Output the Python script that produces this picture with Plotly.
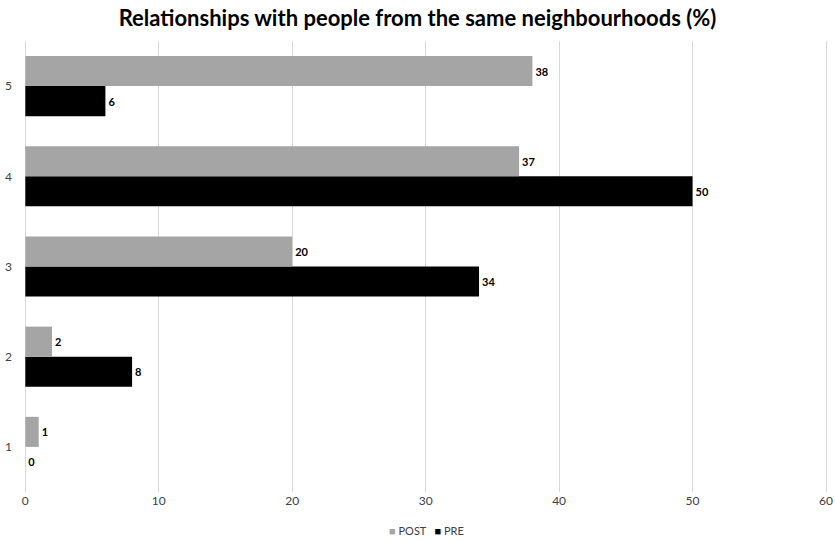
import plotly.graph_objects as go

categories = ["1", "2", "3", "4", "5"]
post_values = [1, 2, 20, 37, 38]
pre_values = [0, 8, 34, 50, 6]
x_ticks = [0, 10, 20, 30, 40, 50, 60]
series_names = ["POST", "PRE"]
series_colors = ["#a5a5a5", "#000000"]

font_fam = "Lato, Liberation Sans, sans-serif"

fig = go.Figure()
fig.add_trace(go.Bar(
    y=categories, x=pre_values, name=series_names[1], orientation="h",
    marker=dict(color=series_colors[1], line=dict(width=0)),
    text=[str(v) for v in pre_values], textposition="outside",
    textfont=dict(family=font_fam, size=11, color="#000000", weight="bold"),
    cliponaxis=False,
))
fig.add_trace(go.Bar(
    y=categories, x=post_values, name=series_names[0], orientation="h",
    marker=dict(color=series_colors[0], line=dict(width=0)),
    text=[str(v) for v in post_values], textposition="outside",
    textfont=dict(family=font_fam, size=11, color="#000000", weight="bold"),
    cliponaxis=False,
))

legend_text = "   ".join(
    f"<span style='color:{c}'>■</span> {n}" for n, c in zip(series_names, series_colors)
)

fig.update_layout(
    width=835, height=541,
    margin=dict(l=24, r=2, t=41, b=49),
    paper_bgcolor="white", plot_bgcolor="white",
    barmode="group", bargap=1/3, bargroupgap=0,
    title=dict(text="<b>Relationships with people from the same neighbourhoods (%)</b>",
               x=0.5, xanchor="center", y=0.967, yanchor="middle",
               font=dict(family=font_fam, size=22, color="#000000")),
    font=dict(family=font_fam, size=11, color="#404040"),
    xaxis=dict(range=[-0.1, 60.15], tickvals=x_ticks, showgrid=True, gridcolor="#d9d9d9",
               gridwidth=1, zeroline=False, showline=False, ticks="",
               ticklabeloverflow="allow",
               tickfont=dict(size=12, color="#404040")),
    yaxis=dict(type="category", categoryorder="array", categoryarray=categories,
               showgrid=False, zeroline=False, showline=False, ticks="",
               ticklabelstandoff=11, tickfont=dict(size=12, color="#404040")),
    showlegend=False,
    annotations=[dict(text=legend_text, xref="paper", yref="paper", x=0.5, y=-0.085,
                      xanchor="center", yanchor="middle", showarrow=False,
                      font=dict(family=font_fam, size=11, color="#404040"))],
)
fig.write_html("out.html")
